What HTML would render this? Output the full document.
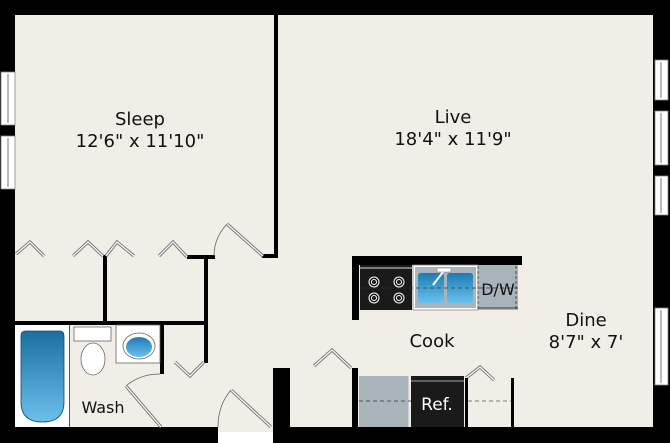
<!DOCTYPE html>
<html><head><meta charset="utf-8"><style>
html,body{margin:0;padding:0;background:#fff;}
svg{display:block;}
text{font-family:"DejaVu Sans","Liberation Sans",sans-serif;fill:#111;}
</style></head><body>
<svg width="670" height="443" viewBox="0 0 670 443" xmlns="http://www.w3.org/2000/svg">
<defs>
<linearGradient id="tub" x1="0" y1="0" x2="0" y2="1"><stop offset="0" stop-color="#1a6fa3"/><stop offset="1" stop-color="#6cc0ea"/></linearGradient>
<linearGradient id="bas" x1="0" y1="0" x2="0" y2="1"><stop offset="0" stop-color="#1d7bb5"/><stop offset="1" stop-color="#6ac2ec"/></linearGradient>
</defs>
<rect x="0" y="0" width="670" height="443" fill="#f0eee7"/>
<rect x="0" y="0" width="670" height="15" fill="#000"/>
<rect x="0" y="0" width="15" height="443" fill="#000"/>
<rect x="653" y="0" width="17" height="443" fill="#000"/>
<rect x="0" y="427" width="218" height="16" fill="#000"/>
<rect x="218" y="432" width="55" height="11" fill="#fff"/>
<rect x="273" y="368" width="17" height="75" fill="#000"/>
<rect x="290" y="427" width="380" height="16" fill="#000"/>
<g fill="#fff" stroke="#888" stroke-width="0.8">
<rect x="1" y="72" width="14" height="53"/><rect x="1" y="136" width="14" height="53"/>
<rect x="655" y="60" width="13" height="40"/><rect x="655" y="111" width="13" height="54"/>
<rect x="655" y="176" width="13" height="39"/><rect x="655" y="308" width="13" height="77"/>
</g>
<g stroke="#777" stroke-width="1">
<line x1="8" y1="74" x2="8" y2="123"/><line x1="8" y1="138" x2="8" y2="187"/>
<line x1="661" y1="62" x2="661" y2="98"/><line x1="661" y1="113" x2="661" y2="163"/>
<line x1="661" y1="178" x2="661" y2="213"/><line x1="661" y1="310" x2="661" y2="383"/>
</g>
<rect x="274" y="15" width="4" height="243" fill="#000"/>
<rect x="262" y="254" width="16" height="4" fill="#000"/>
<rect x="187" y="255" width="28" height="4" fill="#000"/>
<rect x="204" y="255" width="4" height="108" fill="#000"/>
<rect x="103" y="255" width="4" height="70" fill="#000"/>
<rect x="15" y="321" width="192" height="4" fill="#000"/>
<rect x="160" y="321" width="4" height="53" fill="#000"/>
<rect x="15" y="325" width="54" height="102" fill="#fff"/>
<line x1="69.5" y1="325" x2="69.5" y2="427" stroke="#555" stroke-width="1"/>
<path d="M21 336 Q21 331 26 331 L60 331 Q64 331 64 336 L64 402 Q64 422 42.5 422 Q21 422 21 402 Z" fill="url(#tub)" stroke="#0d4a70" stroke-width="0.8"/>
<rect x="74" y="327" width="37" height="14" fill="#fff" stroke="#666" stroke-width="0.8"/>
<ellipse cx="93" cy="359" rx="12" ry="16" fill="#fff" stroke="#666" stroke-width="0.8"/>
<rect x="116" y="325" width="44" height="38" fill="#fff" stroke="#666" stroke-width="0.8"/>
<ellipse cx="139" cy="346" rx="16" ry="13" fill="#fff" stroke="#666" stroke-width="0.8"/>
<ellipse cx="139" cy="347" rx="13" ry="10" fill="url(#bas)"/>
<g fill="none" stroke="#777" stroke-width="3.2" stroke-linejoin="miter">
<polyline points="16,254 30,242 44,256"/>
<polyline points="73,256 88,242 103,256"/>
<polyline points="106,256 117,242 134,256"/>
<polyline points="159,256 173,242 187,257"/>
<line x1="227" y1="224" x2="263" y2="256"/>
<polyline points="175,362 190,376 204,362"/>
<line x1="126" y1="386" x2="161" y2="427"/>
<line x1="231" y1="390" x2="271" y2="427"/>
<polyline points="314,366 332,350 351,368"/>
<polyline points="466,378 480,367 494,380"/>
</g>
<g fill="none" stroke="#fff" stroke-width="1.2">
<polyline points="16,254 30,242 44,256"/>
<polyline points="73,256 88,242 103,256"/>
<polyline points="106,256 117,242 134,256"/>
<polyline points="159,256 173,242 187,257"/>
<line x1="227" y1="224" x2="263" y2="256"/>
<polyline points="175,362 190,376 204,362"/>
<line x1="126" y1="386" x2="161" y2="427"/>
<line x1="231" y1="390" x2="271" y2="427"/>
<polyline points="314,366 332,350 351,368"/>
<polyline points="466,378 480,367 494,380"/>
</g>
<g fill="none" stroke="#666" stroke-width="0.8">
<path d="M227 224 Q214 238 214 256"/>
<path d="M126 386 Q140 374 160 374"/>
<path d="M231 390 Q218 405 218 427"/>
</g>
<rect x="352" y="256" width="170" height="9" fill="#000"/>
<rect x="352" y="256" width="7" height="64" fill="#000"/>
<rect x="360" y="265" width="52" height="45" fill="#1a1a1a"/>
<line x1="360" y1="268" x2="412" y2="268" stroke="#ddd" stroke-width="1"/>
<g fill="none" stroke="#fff" stroke-width="1">
<circle cx="374" cy="282" r="5"/><circle cx="374" cy="282" r="2.5"/>
<circle cx="399" cy="282" r="5"/><circle cx="399" cy="282" r="2.5"/>
<circle cx="374" cy="298" r="5"/><circle cx="374" cy="298" r="2.5"/>
<circle cx="399" cy="298" r="5"/><circle cx="399" cy="298" r="2.5"/>
</g>
<rect x="413" y="265" width="65" height="45" fill="#fff" stroke="#888" stroke-width="0.8"/>
<rect x="415" y="267" width="61" height="41" fill="#a9b4bb"/>
<rect x="418" y="273" width="26" height="30" rx="3" fill="url(#bas)"/>
<rect x="447" y="273" width="26" height="30" rx="3" fill="url(#bas)"/>
<rect x="437" y="268" width="14" height="4" fill="#fff" stroke="#777" stroke-width="0.5"/>
<line x1="433" y1="285" x2="443" y2="272" stroke="#fff" stroke-width="2"/>
<rect x="478" y="265" width="40" height="45" fill="#a8b3ba"/>
<line x1="478" y1="308" x2="518" y2="308" stroke="#777" stroke-width="2"/>
<line x1="478" y1="266" x2="478" y2="310" stroke="#333" stroke-width="0.8" stroke-dasharray="3,2"/>
<line x1="516" y1="266" x2="516" y2="310" stroke="#333" stroke-width="0.8" stroke-dasharray="3,2"/>
<line x1="360" y1="288" x2="518" y2="288" stroke="#333" stroke-width="0.8" stroke-dasharray="4,3"/>
<text x="498" y="295" font-size="16" text-anchor="middle">D/W</text>
<rect x="352" y="368" width="6" height="60" fill="#000"/>
<rect x="359" y="376" width="50" height="51" fill="#a8b3ba"/>
<line x1="409" y1="376" x2="409" y2="427" stroke="#eee" stroke-width="1"/>
<rect x="411" y="376" width="53" height="51" fill="#1a1a1a"/>
<line x1="411" y1="381" x2="464" y2="381" stroke="#888" stroke-width="1.2"/>
<rect x="465" y="378" width="3" height="50" fill="#000"/>
<rect x="511" y="378" width="3" height="50" fill="#000"/>
<line x1="359" y1="401" x2="411" y2="401" stroke="#333" stroke-width="0.8" stroke-dasharray="4,3"/>
<line x1="468" y1="401" x2="511" y2="401" stroke="#555" stroke-width="0.8" stroke-dasharray="4,3"/>
<text x="437" y="410" font-size="17" text-anchor="middle" style="fill:#fff">Ref.</text>
<text x="140" y="125" font-size="18" text-anchor="middle">Sleep</text>
<text x="140" y="147" font-size="18" text-anchor="middle">12'6" x 11'10"</text>
<text x="453" y="123" font-size="18" text-anchor="middle">Live</text>
<text x="453" y="145" font-size="18" text-anchor="middle">18'4" x 11'9"</text>
<text x="432" y="347" font-size="18" text-anchor="middle">Cook</text>
<text x="586" y="326" font-size="18" text-anchor="middle">Dine</text>
<text x="586" y="348" font-size="18" text-anchor="middle">8'7" x 7'</text>
<text x="103" y="413" font-size="16" text-anchor="middle">Wash</text>
</svg>
</body></html>
